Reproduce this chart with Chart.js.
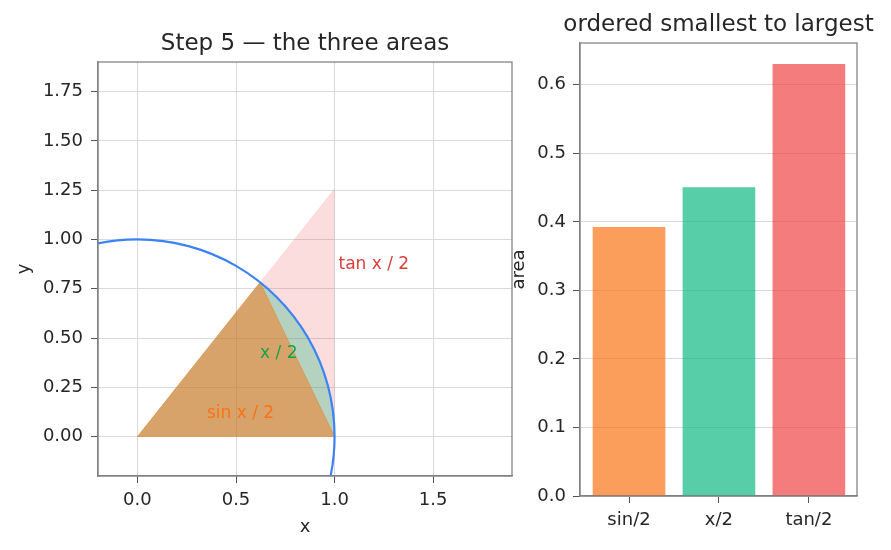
<!DOCTYPE html>
<html>
<head>
<meta charset="utf-8">
<script src="https://cdn.jsdelivr.net/npm/chart.js@4.4.0/dist/chart.umd.min.js"></script>
<style>
body{margin:0;background:#fff;width:891px;height:550px;position:relative;overflow:hidden}
#left{position:absolute;left:0;top:0}
#right{position:absolute;left:505px;top:0}
</style>
</head>
<body>
<canvas id="left" width="520" height="550"></canvas>
<canvas id="right" width="386" height="550"></canvas>
<script>
// unit circle
let circleX = [0.707, 0.866, 0.966, 1, 0.966, 0.866, 0.707, 0.5, 0.259, 0, -0.259, -0.5, -0.707];
let circleY = [-0.707, -0.5, -0.259, 0, 0.259, 0.5, 0.707, 0.866, 0.966, 1, 0.966, 0.866, 0.707];

// the three regions
let tanX = [0, 1, 1, 0];
let tanY = [0, 0, 1.26, 0];
let sectorX = [0, 1, 0.989, 0.955, 0.9, 0.825, 0.732, 0.622, 0];
let sectorY = [0, 0, 0.149, 0.296, 0.435, 0.565, 0.682, 0.783, 0];
let sinX = [0, 1, 0.622, 0];
let sinY = [0, 0, 0.783, 0];

let labelText = ["tan x / 2", "x / 2", "sin x / 2"];
let labelX = [1.02, 0.717, 0.523];
let labelY = [0.87, 0.422, 0.117];

let xTicks = [0, 0.5, 1, 1.5];
let yTicks = [0, 0.25, 0.5, 0.75, 1, 1.25, 1.5, 1.75];

let barLabels = ["sin/2", "x/2", "tan/2"];
let barPos = [0, 1, 2];
let barValues = [0.392, 0.45, 0.63];
let areaTicks = [0, 0.1, 0.2, 0.3, 0.4, 0.5, 0.6];

const FONT = "'DejaVu Sans', sans-serif";
const TXT = "#262626";
const GRID = "#d6d9dd";
const EDGE = "#808080";
const TICK = "#555";

function pts(xs, ys){ return xs.map((x,i)=>({x:x, y:ys[i]})); }
function fixTicks(list){ return s => { s.ticks = list.map(v=>({value:v})); }; }

const frame = {
  id: "frame",
  afterDatasetsDraw(chart){
    let a = chart.chartArea, ctx = chart.ctx;
    ctx.save();
    ctx.strokeStyle = EDGE; ctx.lineWidth = 1.25;
    ctx.strokeRect(a.left, a.top, a.right-a.left, a.bottom-a.top);
    ctx.restore();
  }
};

// title centred over the plot area, not squeezed to its width
function heading(text, y){
  return {
    id: "heading",
    afterDraw(chart){
      let a = chart.chartArea, ctx = chart.ctx;
      ctx.save();
      ctx.font = "23px " + FONT;
      ctx.fillStyle = TXT;
      ctx.textAlign = "center";
      ctx.textBaseline = "middle";
      ctx.fillText(text, (a.left + a.right)/2, y);
      ctx.restore();
    }
  };
}

const labels = {
  id: "labels",
  afterDatasetsDraw(chart){
    let ctx = chart.ctx, sx = chart.scales.x, sy = chart.scales.y;
    let colors = ["#dc3c3c", "#16a34a", "#f97316"];
    let aligns = ["left", "center", "center"];
    ctx.save();
    ctx.font = "17px " + FONT;
    ctx.textBaseline = "middle";
    labelText.forEach((t,i)=>{
      ctx.fillStyle = colors[i];
      ctx.textAlign = aligns[i];
      ctx.fillText(t, sx.getPixelForValue(labelX[i]), sy.getPixelForValue(labelY[i]));
    });
    ctx.restore();
  }
};

Chart.defaults.font.family = FONT;
Chart.defaults.color = TXT;
Chart.defaults.animation = false;

new Chart(document.getElementById("left"), {
  type: "scatter",
  data: {
    datasets: [
      {data: pts(circleX, circleY), showLine: true, borderColor: "#3b82f6", borderWidth: 2.2, pointRadius: 0, tension: 0.34, fill: false},
      {data: pts(sinX, sinY), showLine: true, borderColor: "rgba(217,119,6,0.35)", borderWidth: 1, pointRadius: 0, tension: 0, fill: "shape", backgroundColor: "rgba(249,115,22,0.5)"},
      {data: pts(sectorX, sectorY), showLine: true, borderWidth: 0, borderColor: "rgba(0,0,0,0)", pointRadius: 0, tension: 0, fill: "shape", backgroundColor: "rgba(16,185,129,0.3)"},
      {data: pts(tanX, tanY), showLine: true, borderWidth: 0, borderColor: "rgba(0,0,0,0)", pointRadius: 0, tension: 0, fill: "shape", backgroundColor: "rgba(239,68,68,0.18)"}
    ]
  },
  options: {
    responsive: false,
    elements: {line: {capBezierPoints: false}},
    plugins: {legend: {display: false}, tooltip: {enabled: false}},
    scales: {
      x: {
        type: "linear", min: -0.2, max: 1.9,
        afterBuildTicks: fixTicks(xTicks),
        afterFit: s => { s.height = 74; },
        ticks: {font: {size: 18}, color: TXT, padding: 7, callback: v => v.toFixed(1)},
        grid: {color: GRID, tickColor: TICK, tickLength: 7},
        border: {color: EDGE, width: 1.25},
        title: {display: true, text: "x", font: {size: 18}, color: TXT, padding: {top: 0, bottom: 12}}
      },
      y: {
        type: "linear", min: -0.2, max: 1.9,
        afterBuildTicks: fixTicks(yTicks),
        afterFit: s => { s.width = 98; },
        ticks: {font: {size: 18}, color: TXT, padding: 8, callback: v => v.toFixed(2)},
        grid: {color: GRID, tickColor: TICK, tickLength: 7},
        border: {color: EDGE, width: 1.25},
        title: {display: true, text: "y", font: {size: 18}, color: TXT, padding: {top: 14, bottom: 0}}
      }
    },
    layout: {padding: {top: 62, right: 8, bottom: 0}}
  },
  plugins: [frame, labels, heading("Step 5 — the three areas", 44)]
});

new Chart(document.getElementById("right"), {
  type: "bar",
  data: {
    datasets: [{
      data: pts(barPos, barValues),
      backgroundColor: ["rgba(249,115,22,0.7)", "rgba(16,185,129,0.7)", "rgba(239,68,68,0.7)"],
      barThickness: 72
    }]
  },
  options: {
    responsive: false,
    plugins: {legend: {display: false}, tooltip: {enabled: false}},
    scales: {
      x: {
        type: "linear", min: -0.545, max: 2.535, offset: false,
        afterBuildTicks: fixTicks(barPos),
        afterFit: s => { s.height = 54; },
        ticks: {font: {size: 18}, color: TXT, padding: 7, callback: v => barLabels[v]},
        grid: {display: true, offset: false, drawOnChartArea: false, tickColor: TICK, tickLength: 7},
        border: {color: EDGE, width: 1.25}
      },
      y: {
        min: 0, max: 0.661,
        afterBuildTicks: fixTicks(areaTicks),
        afterFit: s => { s.width = 75; },
        ticks: {font: {size: 18}, color: TXT, padding: 7, callback: v => v.toFixed(1)},
        grid: {color: GRID, tickColor: TICK, tickLength: 7},
        border: {color: EDGE, width: 1.25},
        title: {display: true, text: "area", font: {size: 18}, color: TXT, padding: {top: 4, bottom: 0}}
      }
    },
    layout: {padding: {top: 43, right: 34}}
  },
  plugins: [frame, heading("ordered smallest to largest", 25)]
});
</script>
</body>
</html>
